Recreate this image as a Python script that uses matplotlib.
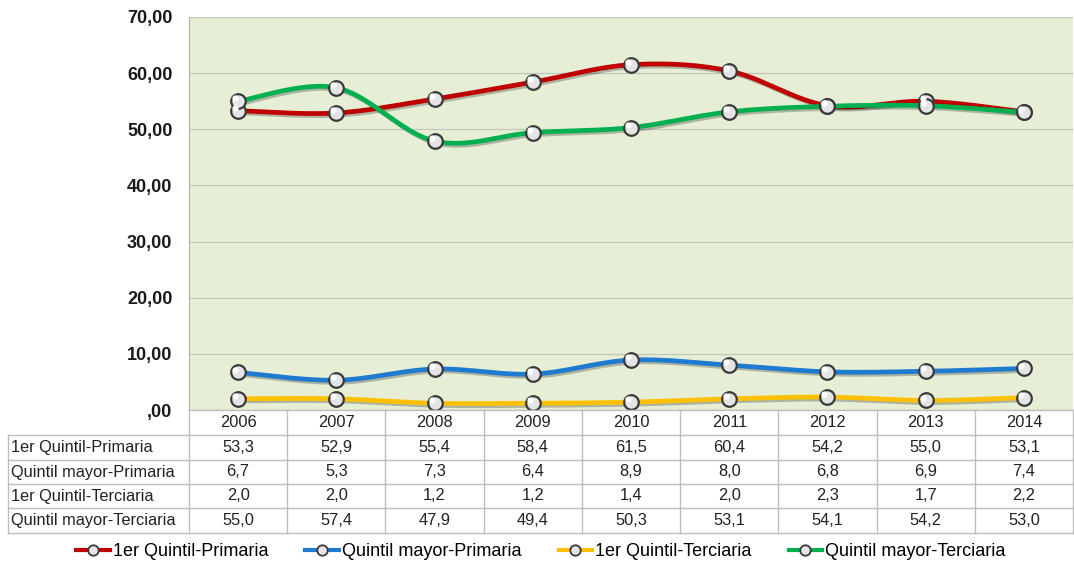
import numpy as np
import matplotlib.pyplot as plt
import matplotlib.patheffects as pe
from matplotlib.lines import Line2D

plt.rcParams['font.family'] = ['Liberation Sans', 'DejaVu Sans']

years = ['2006', '2007', '2008', '2009', '2010', '2011', '2012', '2013', '2014']
names = ['1er Quintil-Primaria', 'Quintil mayor-Primaria',
         '1er Quintil-Terciaria', 'Quintil mayor-Terciaria']
q1_prim = [53.3, 52.9, 55.4, 58.4, 61.5, 60.4, 54.2, 55.0, 53.1]
qmax_prim = [6.7, 5.3, 7.3, 6.4, 8.9, 8.0, 6.8, 6.9, 7.4]
q1_terc = [2.0, 2.0, 1.2, 1.2, 1.4, 2.0, 2.3, 1.7, 2.2]
qmax_terc = [55.0, 57.4, 47.9, 49.4, 50.3, 53.1, 54.1, 54.2, 53.0]
series = [q1_prim, qmax_prim, q1_terc, qmax_terc]
colors = ['#c00000', '#1f7bd0', '#ffc000', '#00b050']
yticks = [0, 10, 20, 30, 40, 50, 60, 70]

W, H = 1074, 563


def smooth(x, y, n=40):
    # bezier smoothing like the spreadsheet "smoothed line" option
    P = np.column_stack([x, y]).astype(float)
    P = np.vstack([P[:1], P, P[-1:]])
    t = np.linspace(0, 1, n)[:, None]
    pts = []
    for i in range(1, len(P) - 2):
        p0, p3 = P[i], P[i + 1]
        c1 = p0 + (P[i + 1] - P[i - 1]) / 6
        c2 = p3 - (P[i + 2] - P[i]) / 6
        b = (1 - t)**3 * p0 + 3 * (1 - t)**2 * t * c1 + 3 * (1 - t) * t**2 * c2 + t**3 * p3
        pts.append(b if i == 1 else b[1:])
    pts = np.vstack(pts)
    return pts[:, 0], pts[:, 1]


def fx(px):
    return px / W


def fy(py):
    return 1 - py / H


fig = plt.figure(figsize=(W / 100, H / 100), dpi=100)
ax = fig.add_axes([fx(189), fy(410), fx(1073) - fx(189), fy(17) - fy(410)])
ax.set_facecolor('#e6efd6')

x = np.arange(len(years))
for vals, col in zip(series, colors):
    sx, sy = smooth(x, vals)
    ax.plot(sx, sy, color=col, lw=3.4, solid_capstyle='round', zorder=3,
            path_effects=[pe.SimpleLineShadow(offset=(1.5, -1.5), alpha=0.25), pe.Normal()])
    ax.plot(x, vals, ls='none', marker='o', ms=10.5, mfc='#e4e4e4', mec='#3a3a3a',
            mew=1.6, zorder=4)
    ax.plot(x - 0.03, np.array(vals) + 0.5, ls='none', marker='o', ms=4.5, mfc='white',
            mec='none', zorder=5)

ax.set_xlim(-0.5, len(years) - 0.5)
ax.set_ylim(0, 70)
ax.set_yticks(yticks)
ax.set_yticklabels([',00' if v == 0 else f'{v:.2f}'.replace('.', ',') for v in yticks],
                   fontsize=13, fontweight='bold', color='#1a1a1a')
ax.tick_params(axis='y', length=0, pad=12)
ax.set_xticks([])
ax.grid(axis='y', color='#c2c6ba', lw=0.9)
ax.set_axisbelow(True)
for s in ['top', 'right', 'bottom']:
    ax.spines[s].set_visible(False)
ax.spines['left'].set_color('#b0b0b0')

# data table under the plot
line_c = '#bdbdbd'
ax_l, ax_r = 189, 1073
col_w = (ax_r - ax_l) / len(years)
rows_y = [410, 435, 460, 484, 508, 533]
for k in range(len(years) + 1):
    xx = ax_l + k * col_w
    fig.add_artist(Line2D([fx(xx), fx(xx)], [fy(410), fy(533)], color=line_c, lw=1))
fig.add_artist(Line2D([fx(8), fx(8)], [fy(435), fy(533)], color=line_c, lw=1))
for i, yy in enumerate(rows_y):
    x0 = ax_l if i == 0 else 8
    fig.add_artist(Line2D([fx(x0), fx(ax_r)], [fy(yy), fy(yy)], color=line_c, lw=1))

fs = 11.8
for k, yr in enumerate(years):
    fig.text(fx(ax_l + (k + 0.5) * col_w), fy((410 + 435) / 2), yr,
             ha='center', va='center', fontsize=fs, color='#222222')
for r, (nm, vals) in enumerate(zip(names, series)):
    yc = fy((rows_y[r + 1] + rows_y[r + 2]) / 2)
    fig.text(fx(11), yc, nm, ha='left', va='center', fontsize=fs, color='#222222')
    for k, v in enumerate(vals):
        fig.text(fx(ax_l + (k + 0.5) * col_w), yc, f'{v:.1f}'.replace('.', ','),
                 ha='center', va='center', fontsize=fs, color='#222222')

handles = [Line2D([], [], color=c, lw=3, marker='o', ms=7.5, mfc='#e4e4e4',
                  mec='#3a3a3a', mew=1.3) for c in colors]
fig.legend(handles, names, loc='center', bbox_to_anchor=(fx(541), fy(552)), ncol=4,
           frameon=False, fontsize=13, handlelength=1.85, handletextpad=0.18,
           columnspacing=2.05, borderpad=0, borderaxespad=0)

fig.savefig('out.png', dpi=100)
